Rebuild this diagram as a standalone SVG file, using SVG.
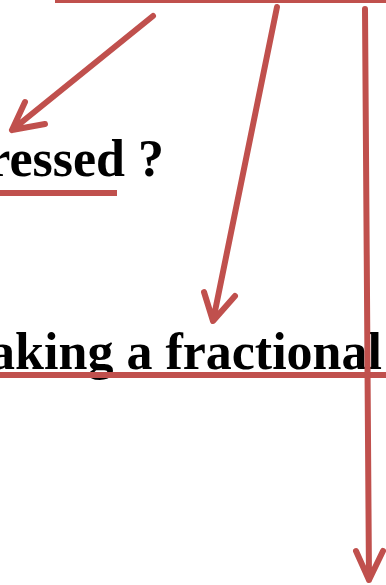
<svg xmlns="http://www.w3.org/2000/svg" width="386" height="585" viewBox="0 0 386 585">
<style>
.ln{fill:none;stroke:#c0504d;stroke-width:6;stroke-linecap:round;stroke-linejoin:round}
.ul{fill:none;stroke:#c0504d;stroke-width:6}
.t{font-family:"Liberation Serif","Times New Roman",serif;font-weight:bold;font-size:52px;fill:#000}
</style>
<rect width="386" height="585" fill="#fff"/>
<g id="text1"><text class="t" x="164" y="176" text-anchor="end">ressed ?</text>
<line class="ul" x1="0" y1="193" x2="117" y2="193"/></g>
<g id="text2"><text class="t" x="382" y="369" text-anchor="end">aking a fractional</text>
<line class="ul" x1="0" y1="375" x2="386" y2="375"/></g>
<g id="connectors">
<line class="ul" x1="55" y1="0" x2="386" y2="0"/>
<path class="ln" d="M153,16 L12,130 M25,102 L12,130 L45,124"/>
<path class="ln" d="M277,7 L213,321 M204,292 L213,321 L235,296"/>
<path class="ln" d="M365,9 L369,580 M356,551 L369,580 L383,551"/>
</g>
</svg>
